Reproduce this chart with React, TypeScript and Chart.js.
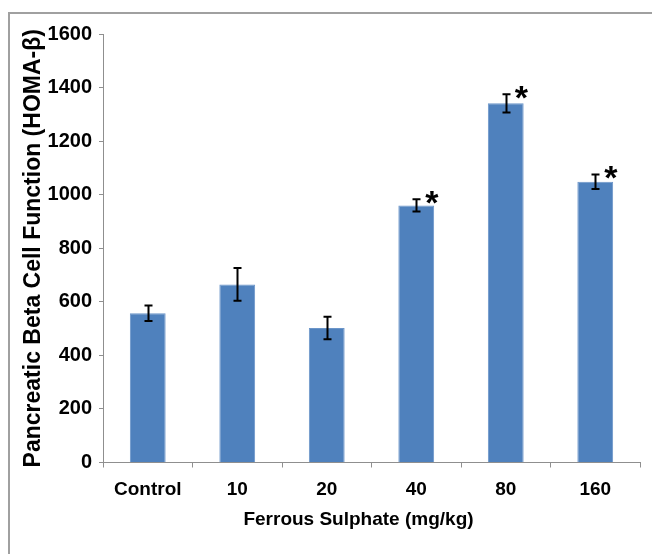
import { useEffect, useRef } from "react";
import { Chart, registerables } from "chart.js";

Chart.register(...registerables);

const categories = ["Control", "10", "20", "40", "80", "160"];
const means = [557, 665, 502, 960, 1341, 1048];
const errors = [29, 61, 42, 23, 34, 27];
const significant = [false, false, false, true, true, true];
const yMin = 0;
const yMax = 1600;
const yStep = 200;
const yTitle = "Pancreatic Beta Cell Function (HOMA-\u03B2)";
const xTitle = "Ferrous Sulphate (mg/kg)";

const FONT = '"Liberation Sans", Arial, sans-serif';
const AXIS_GRAY = "#8f8f8f";

const errorBarPlugin = {
  id: "errorBars",
  afterDatasetsDraw(chart: any) {
    const ctx = chart.ctx;
    const meta = chart.getDatasetMeta(0);
    const y = chart.scales.y;
    ctx.save();
    ctx.strokeStyle = "#000";
    ctx.lineWidth = 2;
    meta.data.forEach((bar: any, i: number) => {
      const x = Math.round(bar.x) + 0.5;
      const top = y.getPixelForValue(means[i] + errors[i]);
      const bot = y.getPixelForValue(means[i] - errors[i]);
      ctx.beginPath();
      ctx.moveTo(x, top);
      ctx.lineTo(x, bot);
      ctx.moveTo(x - 4, top);
      ctx.lineTo(x + 4, top);
      ctx.moveTo(x - 4, bot);
      ctx.lineTo(x + 4, bot);
      ctx.stroke();
      if (significant[i]) {
        ctx.save();
        ctx.fillStyle = "#000";
        ctx.font = `bold 34px ${FONT}`;
        ctx.textAlign = "left";
        ctx.textBaseline = "alphabetic";
        const m = ctx.measureText("*");
        const cx = bar.x + 16;
        const cy = top - 2;
        const asc = m.actualBoundingBoxAscent;
        const desc = m.actualBoundingBoxDescent;
        const l = m.actualBoundingBoxLeft;
        const r = m.actualBoundingBoxRight;
        ctx.fillText("*", cx - (r - l) / 2, cy + (asc - desc) / 2);
        ctx.restore();
      }
    });
    ctx.restore();
  },
};

const xTitlePlugin = {
  id: "xTitleDraw",
  afterDraw(chart: any) {
    const ctx = chart.ctx;
    const { left, right } = chart.chartArea;
    ctx.save();
    ctx.fillStyle = "#000";
    ctx.font = `bold 19px ${FONT}`;
    ctx.textAlign = "center";
    ctx.textBaseline = "middle";
    ctx.fillText(xTitle, (left + right) / 2 - 13, chart.height - 34);
    ctx.restore();
  },
};

export default function App() {
  const ref = useRef<HTMLCanvasElement | null>(null);

  useEffect(() => {
    if (!ref.current) return;
    const chart = new Chart(ref.current, {
      type: "bar",
      data: {
        labels: categories,
        datasets: [
          {
            data: means,
            backgroundColor: "#4f81bd",
            borderColor: "#6b95c9",
            borderWidth: 1,
            barPercentage: 0.4,
            categoryPercentage: 1,
          },
        ],
      },
      options: {
        responsive: false,
        animation: false,
        devicePixelRatio: 1,
        layout: { padding: { left: 0, right: 12, top: 34, bottom: 0 } },
        plugins: {
          legend: { display: false },
          tooltip: { enabled: false },
          title: { display: false },
        },
        scales: {
          x: {
            grid: {
              display: true,
              drawOnChartArea: false,
              drawTicks: true,
              tickLength: 5,
              color: AXIS_GRAY,
              offset: true,
            },
            border: { display: true, color: AXIS_GRAY, width: 1 },
            ticks: {
              color: "#000",
              font: { family: FONT, size: 19, weight: "bold" },
              padding: 11,
              maxRotation: 0,
            },
            title: { display: false },
            afterFit(scale: any) {
              scale.height = 91.5;
            },
          },
          y: {
            min: yMin,
            max: yMax,
            grid: {
              display: true,
              drawOnChartArea: false,
              drawTicks: true,
              tickLength: 4,
              color: AXIS_GRAY,
            },
            border: { display: true, color: AXIS_GRAY, width: 1 },
            ticks: {
              stepSize: yStep,
              color: "#000",
              font: { family: FONT, size: 20, weight: "bold" },
              padding: 7,
              callback: (v: any) => String(v),
            },
            title: {
              display: true,
              text: yTitle,
              color: "#000",
              font: { family: FONT, size: 23, weight: "bold" },
              padding: { top: 20, bottom: 0 },
            },
            afterFit(scale: any) {
              scale.width = 103;
            },
          },
        },
      },
      plugins: [errorBarPlugin, xTitlePlugin],
    });
    return () => chart.destroy();
  }, []);

  return (
    <div
      style={{
        position: "absolute",
        left: 0,
        top: 0,
        width: 652,
        height: 554,
        overflow: "hidden",
        background: "#fff",
      }}
    >
      <div
        style={{
          position: "absolute",
          left: 8,
          top: 12,
          width: 800,
          height: 700,
          borderTop: "2px solid #a0a0a0",
          borderLeft: "2px solid #a0a0a0",
        }}
      />
      <canvas
        ref={ref}
        width={652}
        height={554}
        style={{ position: "absolute", left: 0, top: 0, width: 652, height: 554 }}
      />
    </div>
  );
}
